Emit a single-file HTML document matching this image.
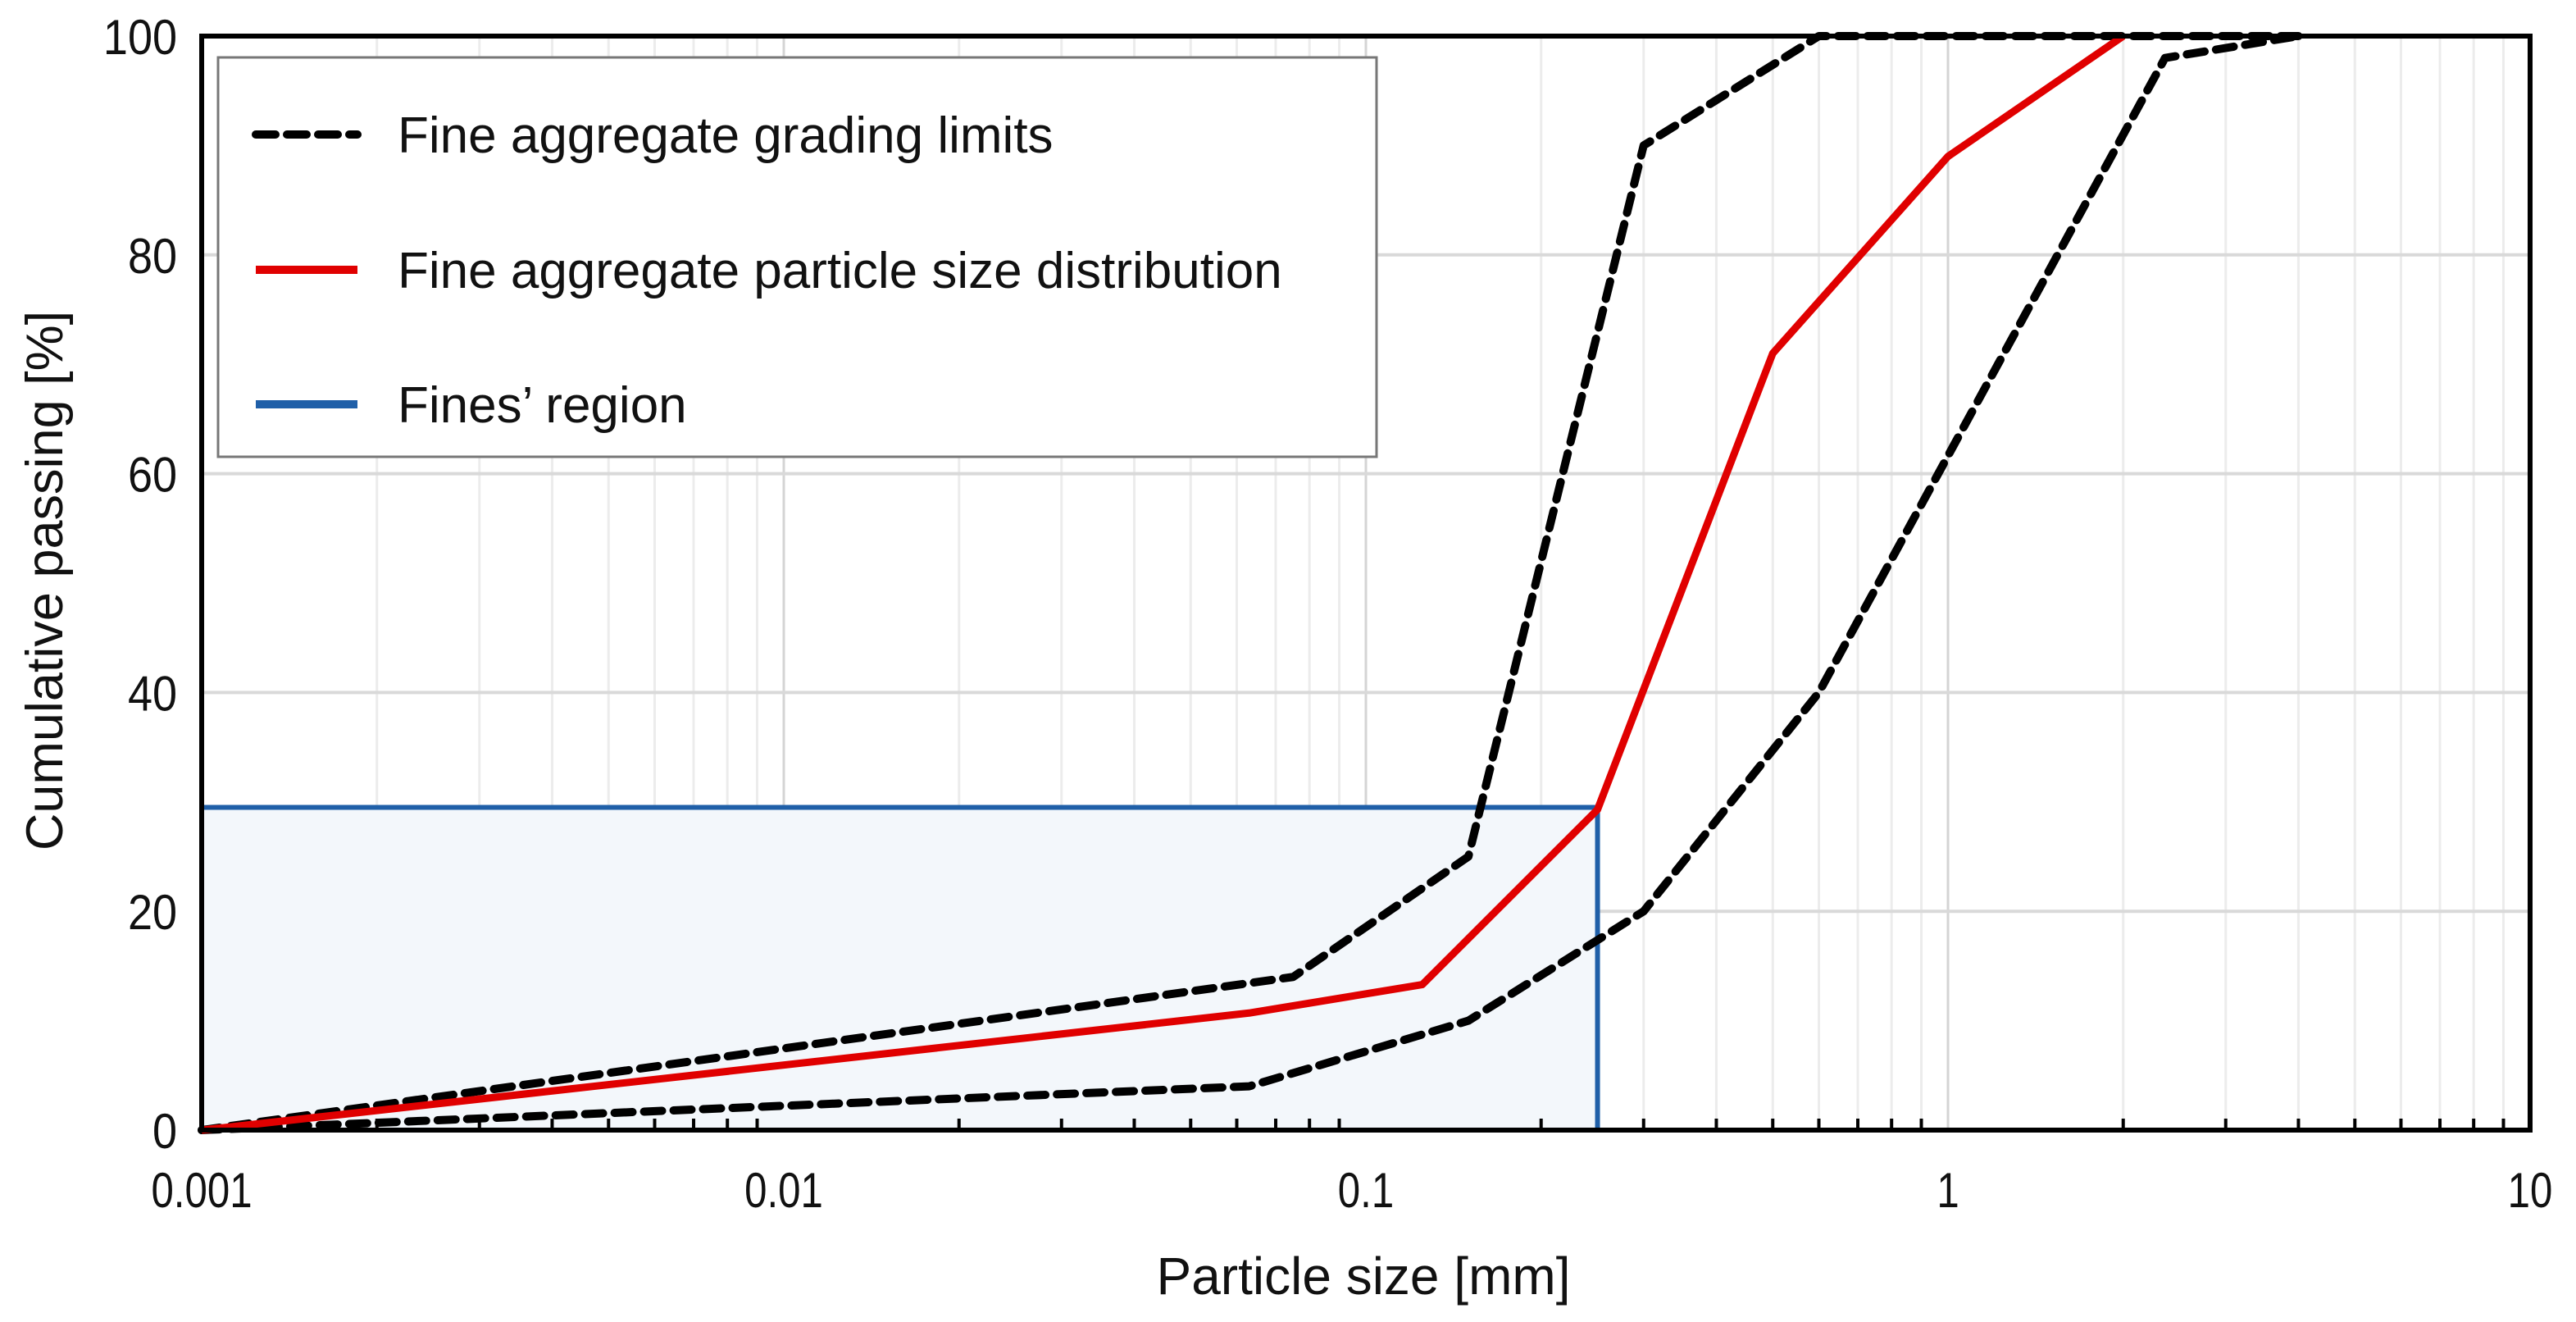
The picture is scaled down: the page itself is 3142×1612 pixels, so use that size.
<!DOCTYPE html>
<html><head><meta charset="utf-8"><style>
html,body{margin:0;padding:0;background:#fff;}
svg{display:block;font-family:"Liberation Sans",Arial,sans-serif;}
</style></head><body>
<svg id="chart" width="3142" height="1612" viewBox="0 0 3142 1612" xmlns="http://www.w3.org/2000/svg">
<g id="grid"></g>
<g id="series"></g>
<g id="axes"></g>
<text x="1663" y="1578" font-size="64" text-anchor="middle" fill="#111">Particle size [mm]</text>
<text transform="translate(76,708) rotate(-90)" font-size="63" text-anchor="middle" fill="#111">Cumulative passing [%]</text>
<g>
<rect x="266" y="70" width="1413" height="487" fill="#fff" stroke="#777" stroke-width="3"/>
<line x1="312" y1="164" x2="436" y2="164" stroke="#000" stroke-width="10" stroke-dasharray="24 14" stroke-linecap="round"/>
<text x="485" y="186" font-size="62" fill="#111">Fine aggregate grading limits</text>
<line x1="312" y1="329" x2="436" y2="329" stroke="#e00000" stroke-width="10"/>
<text x="485" y="351" font-size="62" fill="#111">Fine aggregate particle size distribution</text>
<line x1="312" y1="493" x2="436" y2="493" stroke="#1f5fa8" stroke-width="10"/>
<text x="485" y="515" font-size="62" fill="#111">Fines’ region</text>
</g>
</svg>
<script>
const upperX=[0.001,0.075,0.15,0.3,0.6,4];
const upperY=[0,14,25,90,100,100];
const lowerX=[0.001,0.063,0.15,0.3,0.6,2.36,4];
const lowerY=[0,4,10,20,40,98,100];
const psdX=[0.001,0.063,0.125,0.25,0.5,1,2];
const psdY=[0,10.7,13.3,29.3,71,89,100];
const finesX=0.25;
const finesY=29.5;
const xTicks=[0.001,0.01,0.1,1,10];
const xTickLabels=["0.001","0.01","0.1","1","10"];
const yTicks=[0,20,40,60,80,100];

const L=246,R=3086,T=44,B=1378;
const NS="http://www.w3.org/2000/svg";
function sx(v){return L+(Math.log10(v)+3)/4*(R-L);}
function sy(v){return B-v/100*(B-T);}
function mk(tag,attrs,parent){const e=document.createElementNS(NS,tag);for(const k in attrs)e.setAttribute(k,attrs[k]);document.getElementById(parent).appendChild(e);return e;}

for(let d=-3;d<1;d++){for(let m=1;m<10;m++){const v=m*Math.pow(10,d);const x=sx(v);
 const g=mk('line',{x1:x,y1:T,x2:x,y2:B,stroke:m===1?'#d4d4d4':'#ececec','stroke-width':3},'grid');
 
 
 if(m>1){const t=mk('line',{x1:x,y1:B,x2:x,y2:B-14,stroke:'#000','stroke-width':4},'axes');
 
 }
}}
yTicks.forEach(v=>{const y=sy(v);
 const g=mk('line',{x1:L,y1:y,x2:R,y2:y,stroke:'#d9d9d9','stroke-width':4},'grid');
 
 
 const t=mk('text',{x:0,y:0,'font-size':60,'text-anchor':'end',fill:'#111',transform:`translate(216,${y+22}) scale(0.9,1)`},'axes');t.textContent=v;
 
 
});
xTicks.forEach((v,i)=>{const x=sx(v);
 const t=mk('text',{x:0,y:0,'font-size':60,'text-anchor':'middle',fill:'#111',transform:`translate(${x},1472) scale(0.82,1)`},'axes');t.textContent=xTickLabels[i];
 
 
});
const fr=mk('rect',{x:sx(0.001),y:sy(finesY),width:sx(finesX)-sx(0.001),height:B-sy(finesY),fill:'#f3f7fb'},'series');


const fp=mk('polyline',{points:`${sx(0.001)},${sy(finesY)} ${sx(finesX)},${sy(finesY)} ${sx(finesX)},${B}`,fill:'none',stroke:'#1f5fa8','stroke-width':6},'series');


function pts(xs,ys){return xs.map((v,i)=>sx(v)+','+sy(ys[i])).join(' ');}
const up=mk('polyline',{points:pts(upperX,upperY),fill:'none',stroke:'#000','stroke-width':10,'stroke-dasharray':'22 14','stroke-linecap':'round','stroke-linejoin':'round'},'series');


const lo=mk('polyline',{points:pts(lowerX,lowerY),fill:'none',stroke:'#000','stroke-width':10,'stroke-dasharray':'22 14','stroke-linecap':'round','stroke-linejoin':'round'},'series');


const ps=mk('polyline',{points:pts(psdX,psdY),fill:'none',stroke:'#e00000','stroke-width':9,'stroke-linejoin':'round'},'series');


const fr2=mk('rect',{x:L,y:T,width:R-L,height:B-T,fill:'none',stroke:'#000','stroke-width':6},'axes');


</script>
</body></html>
